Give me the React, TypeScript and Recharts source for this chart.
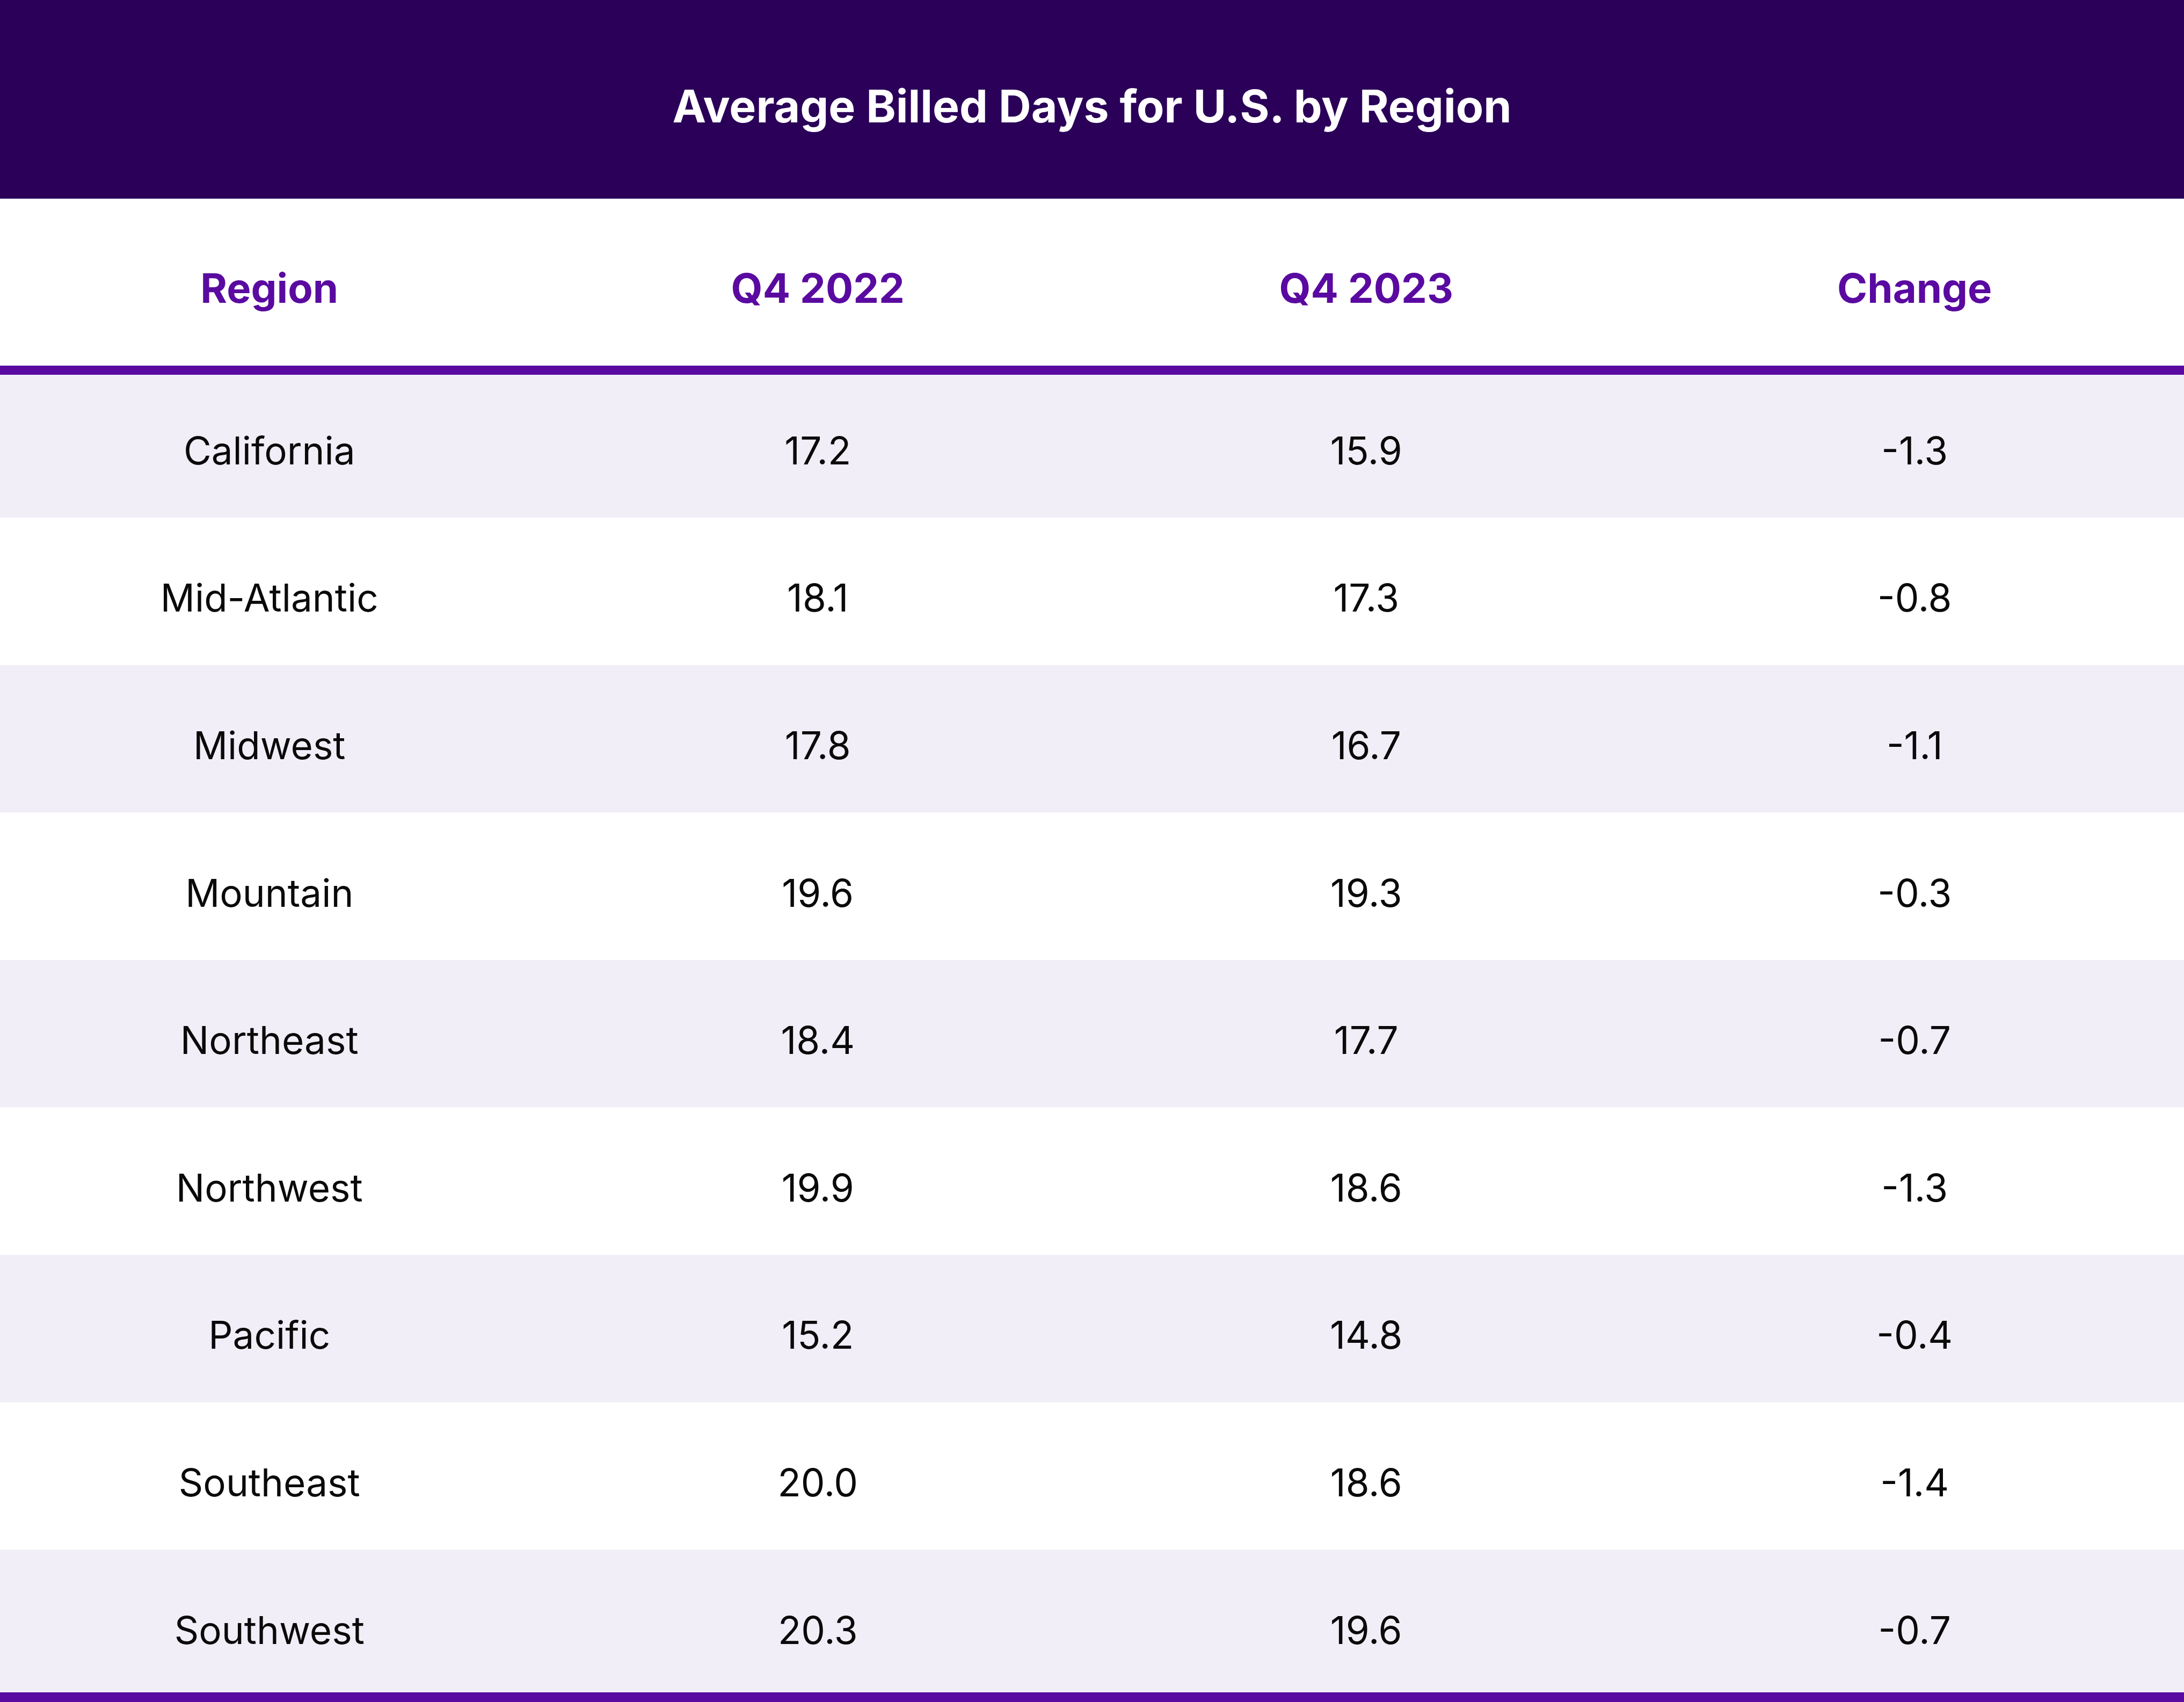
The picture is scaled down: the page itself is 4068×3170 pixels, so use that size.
import type { ReactElement } from "react";
import { ReferenceArea, Scatter, ScatterChart, XAxis, YAxis } from "recharts";

const TITLE = "Average Billed Days for U.S. by Region";
const COLUMNS = ["Region", "Q4 2022", "Q4 2023", "Change"];
const REGIONS = [
  "California",
  "Mid-Atlantic",
  "Midwest",
  "Mountain",
  "Northeast",
  "Northwest",
  "Pacific",
  "Southeast",
  "Southwest",
];
const Q4_2022 = [17.2, 18.1, 17.8, 19.6, 18.4, 19.9, 15.2, 20.0, 20.3];
const Q4_2023 = [15.9, 17.3, 16.7, 19.3, 17.7, 18.6, 14.8, 18.6, 19.6];
const CHANGE = [-1.3, -0.8, -1.1, -0.3, -0.7, -1.3, -0.4, -1.4, -0.7];

const WIDTH = 4068;
const HEIGHT = 3170;
const TITLE_HEIGHT = 370;
const FONT = "Inter, 'Noto Sans', sans-serif";
const NAVY = "#2a0058";
const PURPLE = "#5a0aa0";
const STRIPE = "#f1eef8";

type Cell = { column: string; region: string; text: string };

const cells: Cell[] = REGIONS.flatMap((region, i) => [
  { column: COLUMNS[0], region, text: region },
  { column: COLUMNS[1], region, text: Q4_2022[i].toFixed(1) },
  { column: COLUMNS[2], region, text: Q4_2023[i].toFixed(1) },
  { column: COLUMNS[3], region, text: CHANGE[i].toFixed(1) },
]);

function CellText(props: { cx?: number; cy?: number; payload?: Cell }): ReactElement | null {
  const { cx, cy, payload } = props;
  if (cx == null || cy == null || !payload) return null;
  return (
    <text
      x={cx}
      y={cy + 38}
      textAnchor="middle"
      fontFamily={FONT}
      fontSize={71}
      fill="#0a0a0a"
    >
      {payload.text}
    </text>
  );
}

function HeaderTick(props: { x?: number; y?: number; payload?: { value: string } }): ReactElement {
  const { x = 0, y = 0, payload } = props;
  return (
    <text
      x={x}
      y={y - 126}
      textAnchor="middle"
      fontFamily={FONT}
      fontWeight={700}
      fontSize={76}
      fill={PURPLE}
    >
      {payload?.value}
    </text>
  );
}

export default function App(): ReactElement {
  return (
    <div style={{ position: "absolute", left: 0, top: 0, width: WIDTH, height: HEIGHT, background: "#fff", overflow: "hidden" }}>
      <svg width={WIDTH} height={TITLE_HEIGHT} style={{ display: "block" }}>
        <rect width={WIDTH} height={TITLE_HEIGHT} fill={NAVY} />
        <text
          x={WIDTH / 2}
          y={228}
          textAnchor="middle"
          fontFamily={FONT}
          fontWeight={700}
          fontSize={84}
          fill="#ffffff"
        >
          {TITLE}
        </text>
      </svg>
      <ScatterChart
        width={WIDTH}
        height={HEIGHT - TITLE_HEIGHT}
        margin={{ top: 318.5, right: -9, bottom: 8, left: -9 }}
      >
        {REGIONS.map((region, i) =>
          i % 2 === 0 ? (
            <ReferenceArea
              key={region}
              xAxisId="top"
              y1={region}
              y2={region}
              fill={STRIPE}
              fillOpacity={1}
              stroke="none"
            />
          ) : null,
        )}
        <XAxis
          xAxisId="top"
          orientation="top"
          type="category"
          dataKey="column"
          allowDuplicatedCategory={false}
          height={1}
          tickSize={0}
          tickMargin={0}
          tickLine={false}
          interval={0}
          axisLine={{ stroke: PURPLE, strokeWidth: 17 }}
          tick={<HeaderTick />}
        />
        <XAxis
          xAxisId="bottom"
          orientation="bottom"
          type="category"
          dataKey="column"
          allowDuplicatedCategory={false}
          height={1}
          tick={false}
          tickLine={false}
          axisLine={{ stroke: PURPLE, strokeWidth: 18 }}
        />
        <YAxis
          type="category"
          dataKey="region"
          allowDuplicatedCategory={false}
          reversed
          width={0}
          tick={false}
          tickLine={false}
          axisLine={false}
        />
        <Scatter
          xAxisId="top"
          data={cells}
          shape={<CellText />}
          isAnimationActive={false}
        />
      </ScatterChart>
    </div>
  );
}
